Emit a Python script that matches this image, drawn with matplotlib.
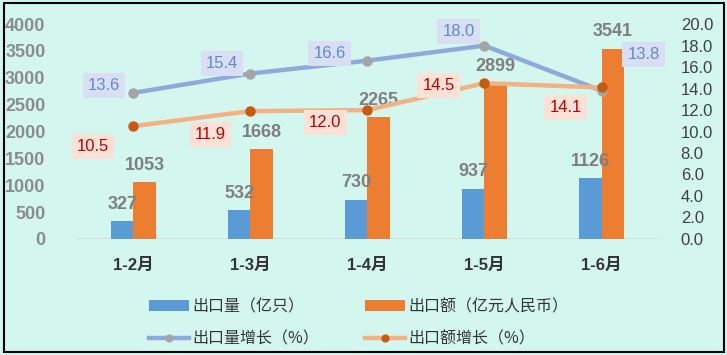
import matplotlib.pyplot as plt
import matplotlib.patches as mpatches
import numpy as np

# ── 数据 ─────────────────────────────────────────────
categorias = ["1-2月", "1-3月", "1-4月", "1-5月", "1-6月"]
qtd = [327, 532, 730, 937, 1126]            # 出口量（亿只）
valor = [1053, 1668, 2265, 2899, 3541]      # 出口额（亿元人民币）
cresc_qtd = [13.6, 15.4, 16.6, 18.0, 13.8]  # 出口量增长（%）
cresc_val = [10.5, 11.9, 12.0, 14.5, 14.1]  # 出口额增长（%）

# ── 样式 ─────────────────────────────────────────────
BG = "#D3F7EF"
C = {
    "bar1": "#5B9BD5",
    "bar2": "#ED7D31",
    "line1": "#8EA9DB",
    "mk1": "#A5A5A5",
    "line2": "#F4B183",
    "mk2": "#C55A11",
    "box1": "#D9DEF2",
    "txt1": "#5B8BD0",
    "box2": "#FCE1D6",
    "txt2": "#C00000",
    "gray": "#8C8C8C",
    "dark": "#333333",
}
NUM_FONT = ["Liberation Sans", "Noto Sans CJK SC"]
CJK_FONT = ["Noto Sans CJK SC", "DejaVu Sans"]

fig = plt.figure(figsize=(7.27, 3.55), dpi=100)
fig.patch.set_facecolor(BG)
ax = fig.add_axes([0.1045, 0.327, 0.805, 0.605])
ax.set_facecolor(BG)
ax2 = ax.twinx()

x = np.arange(len(categorias))
w = 0.19
b1 = ax.bar(x - w / 2, qtd, w, color=C["bar1"], label="出口量（亿只）", zorder=2)
b2 = ax.bar(x + w / 2, valor, w, color=C["bar2"], label="出口额（亿元人民币）", zorder=2)

for bars, vals in [(b1, qtd), (b2, valor)]:
    for b, v in zip(bars, vals):
        ax.annotate(str(v), (b.get_x() + b.get_width() / 2, v), xytext=(0, 17),
                    textcoords="offset pixels", ha="center", va="center",
                    fontsize=13, fontweight="bold", color="#7F7F7F",
                    family=NUM_FONT, zorder=5)

ax.set_xlim(-0.49, 4.51)
ax.set_ylim(0, 4000)
ax.set_yticks(np.arange(0, 4001, 500))
ax.set_xticks(x)
ax.set_xticklabels(categorias, fontsize=12, fontweight="bold", color=C["dark"],
                   family=NUM_FONT)
for lab in ax.get_yticklabels():
    lab.set_fontsize(13)
    lab.set_fontweight("bold")
    lab.set_color(C["gray"])
    lab.set_family(NUM_FONT)
ax.tick_params(axis="y", length=0, pad=22)
ax.tick_params(axis="x", length=0, pad=14)

l1, = ax2.plot(x, cresc_qtd, color=C["line1"], lw=3.2, marker="o", markersize=6.5,
               markerfacecolor=C["mk1"], markeredgecolor=C["mk1"], label="出口量增长（%）")
l2, = ax2.plot(x, cresc_val, color=C["line2"], lw=3.2, marker="o", markersize=6.5,
               markerfacecolor=C["mk2"], markeredgecolor=C["mk2"], label="出口额增长（%）")
ax2.set_ylim(0, 20)
ax2.set_yticks(np.arange(0, 20.1, 2))
ax2.set_yticklabels([f"{v:.1f}" for v in np.arange(0, 20.1, 2)], fontsize=12,
                    color="#404040", family=NUM_FONT)
ax2.tick_params(axis="y", length=0, pad=14)

# rótulos das linhas (deslocamento em pixels)
off1 = [(-29, 7), (-28, 10), (-38, 7), (-26, 14), (42, 36)]
off2 = [(-40, -20), (-40, -23), (-42, -12), (-46, -2), (-36, -20)]
for xi, v, (dx, dy) in zip(x, cresc_qtd, off1):
    ax2.annotate(f"{v:.1f}", (xi, v), xytext=(dx, dy), textcoords="offset pixels",
                 ha="center", va="center", fontsize=12, color=C["txt1"], family=NUM_FONT,
                 bbox=dict(boxstyle="square,pad=0.3", fc=C["box1"], ec="none"))
for xi, v, (dx, dy) in zip(x, cresc_val, off2):
    ax2.annotate(f"{v:.1f}", (xi, v), xytext=(dx, dy), textcoords="offset pixels",
                 ha="center", va="center", fontsize=12, color=C["txt2"], family=NUM_FONT,
                 bbox=dict(boxstyle="square,pad=0.3", fc=C["box2"], ec="none"))

for a in (ax, ax2):
    for s in ["top", "right", "left", "bottom"]:
        a.spines[s].set_visible(False)
ax.axhline(0, color="#D9D9D9", lw=1.2, zorder=1)

leg = fig.legend([b1, l1, b2, l2],
                 ["出口量（亿只）", "出口量增长（%）", "出口额（亿元人民币）", "出口额增长（%）"],
                 ncol=2, loc="center left", bbox_to_anchor=(0.185, 0.09),
                 frameon=False, prop={"family": CJK_FONT, "size": 11.5},
                 handlelength=2.5, handletextpad=0.2, columnspacing=2.9,
                 labelspacing=0.95, markerscale=0.75)
for t in leg.get_texts():
    t.set_color(C["dark"])

# moldura
fig.add_artist(mpatches.Rectangle((0.005, 0.008), 0.991, 0.984, transform=fig.transFigure,
                                  fill=False, ec="black", lw=1.5))

plt.savefig("out.png", dpi=100, facecolor=BG)
plt.close()
